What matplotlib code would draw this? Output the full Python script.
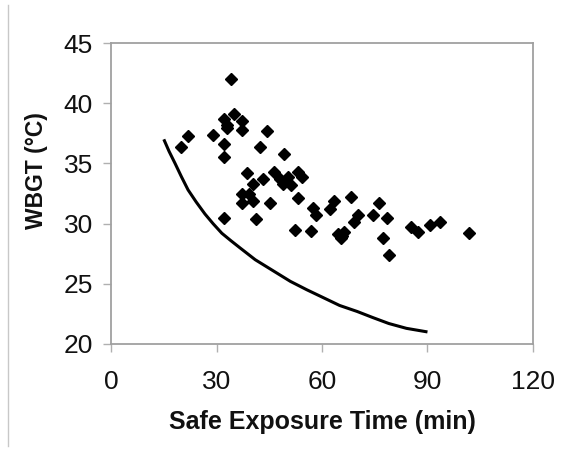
import numpy as np
import matplotlib.pyplot as plt
from matplotlib.lines import Line2D

time_obs = [34, 35.1, 32, 37.1, 33.1, 33.1, 37.1, 22, 20, 29.1,
            32, 32, 38.8, 44.3, 42.3, 49.1, 46.3, 40.3, 43.1, 48,
            50.3, 48.9, 51.1, 53.1, 54.3, 37.1, 39.1, 37.1, 40.3, 45.1,
            53.1, 32, 41.1, 52.3, 57, 57.4, 58.3, 63.4, 62.3, 68.3,
            76.3, 74.6, 70.3, 69.1, 78.6, 64.6, 65.4, 66.3, 65.7, 77.4,
            79.1, 85.4, 87.4, 90.6, 93.7, 101.7]
wbgt_obs = [42.0, 39.1, 38.7, 38.5, 38.2, 37.9, 37.8, 37.25, 36.4, 37.4,
            36.6, 35.5, 34.2, 37.7, 36.4, 35.8, 34.25, 33.25, 33.7, 33.7,
            33.9, 33.3, 33.2, 34.3, 33.9, 32.5, 32.5, 31.75, 31.9, 31.75,
            32.1, 30.5, 30.4, 29.5, 29.4, 31.3, 30.7, 31.9, 31.25, 32.2,
            31.7, 30.7, 30.7, 30.1, 30.5, 29.1, 28.8, 29.3, 29.0, 28.8,
            27.4, 29.75, 29.3, 29.9, 30.1, 29.2]

# limit curve
time_lim = [15, 16.5, 18.2, 20, 21.9, 24.2, 26.7, 29, 31.5, 34, 36.6,
            41, 46, 51, 55.7, 60, 65, 70, 74.4, 79, 84, 90]
wbgt_lim = [37.0, 36.0, 35.0, 33.9, 32.8, 31.8, 30.8, 30.0, 29.2, 28.6, 28.0,
            27.0, 26.1, 25.2, 24.5, 23.9, 23.2, 22.7, 22.2, 21.7, 21.3, 21.0]

plt.rcParams['font.family'] = ['Liberation Sans', 'DejaVu Sans']

fig = plt.figure(figsize=(5.61, 4.5), dpi=100)
ax = fig.add_axes([0.198, 0.2356, 0.752, 0.6688])

ax.plot(time_lim, wbgt_lim, color='black', lw=2.2, solid_capstyle='butt')
ax.plot(time_obs, wbgt_obs, linestyle='none', marker='D', markersize=6.2,
        color='black')

ax.set_xlim(0, 120)
ax.set_ylim(20, 45)
ax.set_xticks([0, 30, 60, 90, 120])
ax.set_yticks([20, 25, 30, 35, 40, 45])

for s in ax.spines.values():
    s.set_color('#a0a0a0')
    s.set_linewidth(1.3)
ax.tick_params(direction='out', length=6, width=1, color='#b0b0b0',
               labelsize=19, labelcolor='#111111')
ax.tick_params(axis='x', pad=13)
ax.tick_params(axis='y', pad=7)

ax.set_xlabel('Safe Exposure Time (min)', fontsize=18, fontweight='bold',
              color='#111111', labelpad=11)
ax.set_ylabel('WBGT (°C)', fontsize=16.5, fontweight='bold', color='#111111')
ax.yaxis.set_label_coords(-0.15, 0.575)

# thin frame line on the left edge of the picture
fig.add_artist(Line2D([0.0145, 0.0145], [0.01, 0.99], color='#c8c8c8', lw=1,
                      transform=fig.transFigure))

fig.savefig('out.png', dpi=100)
